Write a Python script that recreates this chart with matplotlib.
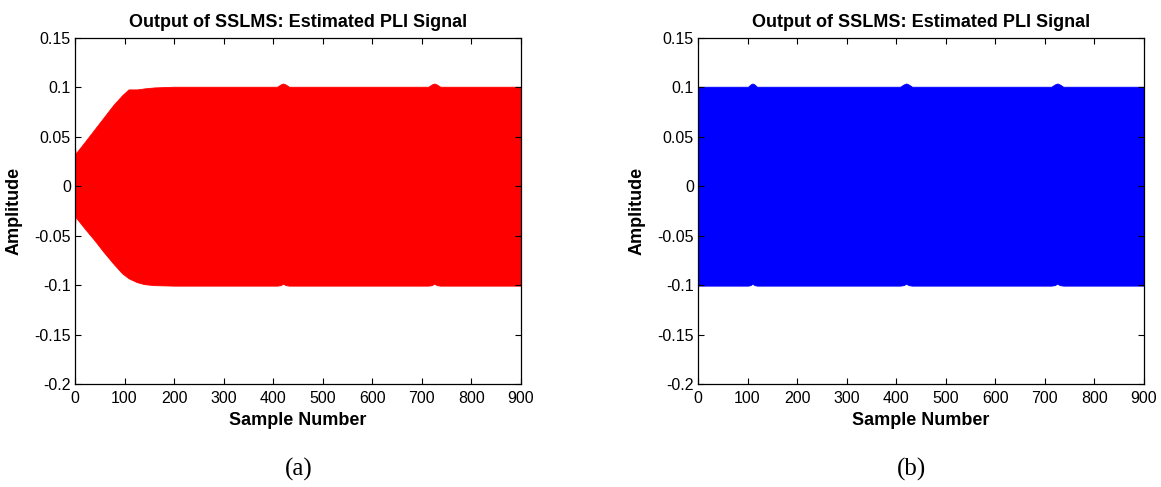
# Output of SSLMS: estimated PLI signal, panels (a) and (b)
import matplotlib
matplotlib.use('Agg')
import matplotlib.pyplot as plt

plt.rcParams['font.family'] = ['Liberation Sans', 'DejaVu Sans']

# envelope of the estimated PLI signal
a_n = [0, 1, 20, 40, 57, 77, 95, 108, 125, 140, 160, 200,
       408, 415, 420, 425, 432, 713, 720, 725, 730, 737, 900]
a_upper = [0.041, 0.033, 0.045, 0.058, 0.069, 0.082, 0.092, 0.098, 0.098, 0.099, 0.1, 0.1007,
           0.1007, 0.103, 0.104, 0.103, 0.1007, 0.1007, 0.103, 0.104, 0.103, 0.1007, 0.1007]
a_lower = [-0.041, -0.031, -0.043, -0.055, -0.066, -0.078, -0.088, -0.093, -0.097, -0.099, -0.1, -0.1005,
           -0.1005, -0.1, -0.0985, -0.1, -0.1005, -0.1005, -0.1, -0.0985, -0.1, -0.1005, -0.1005]

b_n = [0, 101, 106, 110, 114, 119, 408, 415, 420, 425, 432, 713, 720, 725, 730, 737, 900]
b_upper = [0.1007, 0.1007, 0.103, 0.104, 0.103, 0.1007, 0.1007, 0.103, 0.104, 0.103, 0.1007,
           0.1007, 0.103, 0.104, 0.103, 0.1007, 0.1007]
b_lower = [-0.1005, -0.1005, -0.1, -0.0985, -0.1, -0.1005, -0.1005, -0.1, -0.0985, -0.1, -0.1005,
           -0.1005, -0.1, -0.0985, -0.1, -0.1005, -0.1005]

xticks = [0, 100, 200, 300, 400, 500, 600, 700, 800, 900]
yticks = [-0.2, -0.15, -0.1, -0.05, 0, 0.05, 0.1, 0.15]
ytick_labels = ['-0.2', '-0.15', '-0.1', '-0.05', '0', '0.05', '0.1', '0.15']

fig = plt.figure(figsize=(11.61, 4.87), dpi=100)
ax1 = fig.add_axes([75 / 1161, 103 / 487, 446 / 1161, 346 / 487])
ax2 = fig.add_axes([698 / 1161, 103 / 487, 446 / 1161, 346 / 487])

panels = [(ax1, a_n, a_upper, a_lower, '#ff0000'),
          (ax2, b_n, b_upper, b_lower, '#0000ff')]

for ax, n, up, lo, col in panels:
    ax.fill_between(n, lo, up, color=col, linewidth=0.6, edgecolor=col)
    ax.set_xlim(0, 900)
    ax.set_ylim(-0.2, 0.15)
    ax.set_xticks(xticks)
    ax.set_xticklabels([str(t) for t in xticks])
    ax.set_yticks(yticks)
    ax.set_yticklabels(ytick_labels)
    ax.tick_params(direction='in', length=4, width=0.8, top=True, right=True,
                   labelsize=11.5)
    ax.tick_params(axis='x', pad=5)
    ax.tick_params(axis='y', pad=3)
    for s in ax.spines.values():
        s.set_linewidth(0.9)
    ax.set_title('Output of SSLMS: Estimated PLI Signal', fontsize=13,
                 fontweight='bold', pad=8)
    ax.set_xlabel('Sample Number', fontsize=13, fontweight='bold')
    ax.set_ylabel('Amplitude', fontsize=13, fontweight='bold')
    ax.xaxis.set_label_coords(0.5, -0.08)
    ax.yaxis.set_label_coords(-0.118, 0.5)

fig.text(299 / 1161, 0.037, '(a)', fontsize=18, family='Liberation Serif',
         ha='center', va='center')
fig.text(911 / 1161, 0.037, '(b)', fontsize=18, family='Liberation Serif',
         ha='center', va='center')

plt.savefig('out.png', dpi=100)
